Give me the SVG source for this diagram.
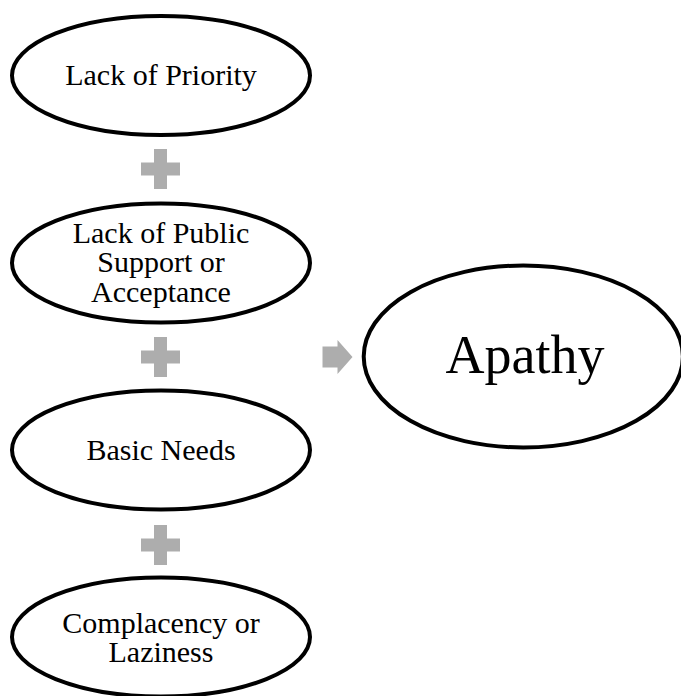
<svg xmlns="http://www.w3.org/2000/svg" width="681" height="696" viewBox="0 0 681 696">
  <style>
    .node ellipse { fill: #ffffff; stroke: #000000; stroke-width: 4; }
    .label { font-family: "Liberation Serif", "Times New Roman", serif; font-size: 30px; fill: #000000; text-anchor: middle; }
    .big { font-size: 54px; }
    .op { fill: #ADADAD; }
  </style>
  <defs>
    <path id="plus" d="M-6.5,-20 H6.5 V-6.5 H19.5 V6.5 H6.5 V20 H-6.5 V6.5 H-19.5 V-6.5 H-6.5 Z"/>
  </defs>
  <rect width="681" height="696" fill="#ffffff"/>

  <g id="connectors">
    <use href="#plus" class="op" x="160.5" y="169"/>
    <use href="#plus" class="op" x="160.5" y="357"/>
    <use href="#plus" class="op" x="160.5" y="545"/>
    <path class="op" d="M322.5,346.5 H337.5 V340 L352.5,357 L337.5,374 V367.5 H322.5 Z"/>
  </g>

  <g id="lack-of-priority" class="node">
    <ellipse cx="161" cy="75.5" rx="149" ry="59.5"/>
    <text class="label" x="161" y="85">Lack of Priority</text>
  </g>

  <g id="lack-of-public-support" class="node">
    <ellipse cx="161" cy="263" rx="149" ry="59.5"/>
    <text class="label" x="161" y="243">Lack of Public</text>
    <text class="label" x="161" y="272">Support or</text>
    <text class="label" x="161" y="301.5">Acceptance</text>
  </g>

  <g id="basic-needs" class="node">
    <ellipse cx="161" cy="450" rx="149" ry="59.5"/>
    <text class="label" x="161" y="460">Basic Needs</text>
  </g>

  <g id="complacency" class="node">
    <ellipse cx="161" cy="637" rx="149" ry="59.5"/>
    <text class="label" x="161" y="633">Complacency or</text>
    <text class="label" x="161" y="662">Laziness</text>
  </g>

  <g id="apathy" class="node">
    <ellipse cx="523.3" cy="356.5" rx="159.6" ry="91"/>
    <text class="label big" x="525" y="373">Apathy</text>
  </g>
</svg>
